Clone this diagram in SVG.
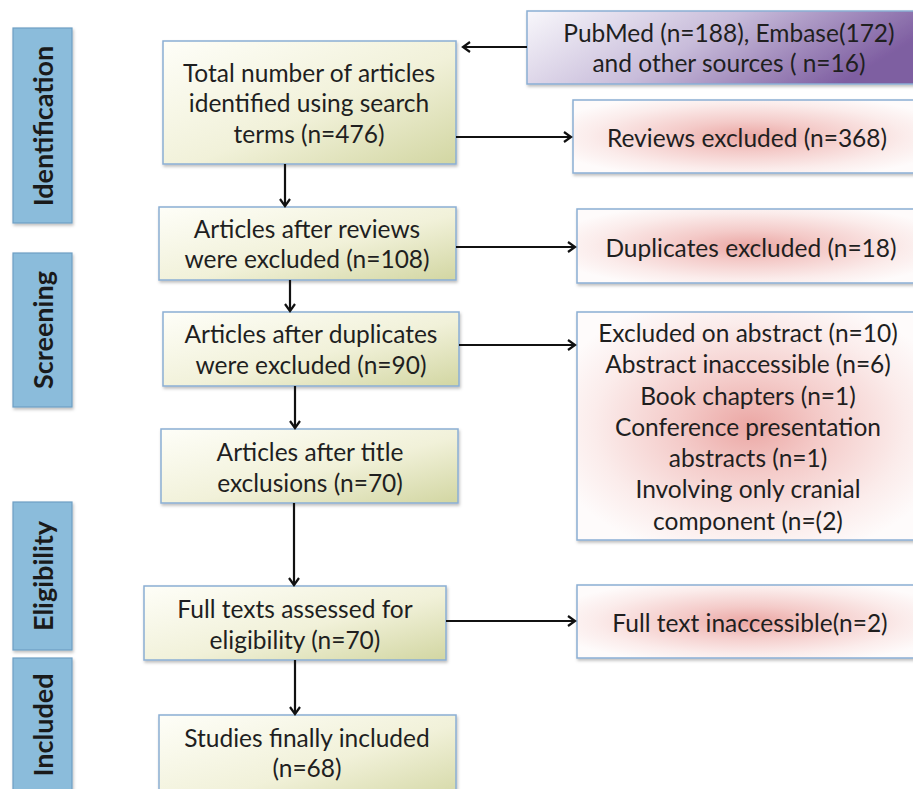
<svg xmlns="http://www.w3.org/2000/svg" width="913" height="789" viewBox="0 0 913 789">
<defs>
<style>
.t{font-family:Lato,"Liberation Sans",sans-serif;font-size:24.5px;fill:#1f1f1f;text-anchor:middle}
.s{font-family:Lato,"Liberation Sans",sans-serif;font-size:27px;font-weight:bold;fill:#1a1a1a;text-anchor:middle}
.lab{fill:#8bbcdb;stroke:#6e9fc4;stroke-width:1.2}
.g{fill:url(#green);stroke:#8aaed4;stroke-width:1.5}
.p{fill:url(#pink);stroke:#8aaed4;stroke-width:1.5}
.c{stroke:#111;stroke-width:2.2;fill:none;marker-end:url(#ah)}
</style>
<linearGradient id="green" x1="0" y1="0" x2="1" y2="1">
<stop offset="0" stop-color="#fefef8"/>
<stop offset="0.55" stop-color="#f1f1d9"/>
<stop offset="1" stop-color="#d2d6a2"/>
</linearGradient>
<radialGradient id="pink" cx="0.5" cy="0.5" r="0.6">
<stop offset="0" stop-color="#eba7a4"/>
<stop offset="0.35" stop-color="#f4cbc9"/>
<stop offset="0.75" stop-color="#fbeceb"/>
<stop offset="1" stop-color="#fefbfb"/>
</radialGradient>
<linearGradient id="purple" x1="0" y1="0" x2="1" y2="0.3">
<stop offset="0" stop-color="#f8f7fb"/>
<stop offset="0.5" stop-color="#c8bcda"/>
<stop offset="1" stop-color="#7e5ea1"/>
</linearGradient>
<filter id="sh" x="-10%" y="-10%" width="130%" height="130%">
<feDropShadow dx="1" dy="2" stdDeviation="1.5" flood-color="#000" flood-opacity="0.25"/>
</filter>
<marker id="ah" markerWidth="12" markerHeight="12" refX="9" refY="6" orient="auto" markerUnits="userSpaceOnUse">
<path d="M2,1 L9,6 L2,11" fill="none" stroke="#111" stroke-width="2.2"/>
</marker>
</defs>
<rect width="913" height="789" fill="#fff"/>

<g id="phase-identification">
<rect class="lab" x="13" y="28" width="59" height="195" filter="url(#sh)"/>
<text class="s" transform="translate(53,126) rotate(-90)">Identification</text>
</g>
<g id="phase-screening">
<rect class="lab" x="13" y="253" width="59" height="154" filter="url(#sh)"/>
<text class="s" transform="translate(53,330) rotate(-90)">Screening</text>
</g>
<g id="phase-eligibility">
<rect class="lab" x="13" y="502" width="59" height="148" filter="url(#sh)"/>
<text class="s" transform="translate(53,576) rotate(-90)">Eligibility</text>
</g>
<g id="phase-included">
<rect class="lab" x="13" y="658" width="59" height="140" filter="url(#sh)"/>
<text class="s" transform="translate(53,725) rotate(-90)">Included</text>
</g>

<g id="total">
<rect class="g" x="163" y="41" width="293" height="123" filter="url(#sh)"/>
<text class="t" x="309" y="82">Total number of articles</text>
<text class="t" x="309" y="112">identified using search</text>
<text class="t" x="309" y="143">terms (n=476)</text>
</g>
<g id="after-reviews">
<rect class="g" x="159" y="207" width="297" height="73" filter="url(#sh)"/>
<text class="t" x="307" y="238">Articles after reviews</text>
<text class="t" x="307" y="268">were excluded (n=108)</text>
</g>
<g id="after-duplicates">
<rect class="g" x="163" y="312" width="296" height="74" filter="url(#sh)"/>
<text class="t" x="311" y="343">Articles after duplicates</text>
<text class="t" x="311" y="374">were excluded (n=90)</text>
</g>
<g id="after-title">
<rect class="g" x="161" y="429" width="297" height="74" filter="url(#sh)"/>
<text class="t" x="310" y="461">Articles after title</text>
<text class="t" x="310" y="492">exclusions (n=70)</text>
</g>
<g id="full-texts">
<rect class="g" x="144" y="586" width="302" height="74" filter="url(#sh)"/>
<text class="t" x="295" y="618">Full texts assessed for</text>
<text class="t" x="295" y="649">eligibility (n=70)</text>
</g>
<g id="included">
<rect class="g" x="159" y="715" width="297" height="90" filter="url(#sh)"/>
<text class="t" x="307" y="747">Studies finally included</text>
<text class="t" x="307" y="777">(n=68)</text>
</g>

<g id="sources">
<rect x="527" y="11" width="400" height="73" fill="url(#purple)" stroke="#8aaed4" stroke-width="1.5" filter="url(#sh)"/>
<text class="t" x="729" y="42">PubMed (n=188), Embase(172)</text>
<text class="t" x="729" y="72">and other sources ( n=16)</text>
</g>
<g id="reviews-excluded">
<rect class="p" x="573" y="100" width="350" height="73" filter="url(#sh)"/>
<text class="t" x="747" y="147">Reviews excluded (n=368)</text>
</g>
<g id="duplicates-excluded">
<rect class="p" x="577" y="209" width="346" height="74" filter="url(#sh)"/>
<text class="t" x="751" y="257">Duplicates excluded (n=18)</text>
</g>
<g id="abstract-excluded">
<rect class="p" x="577" y="312" width="346" height="228" filter="url(#sh)"/>
<text class="t" x="748" y="342">Excluded on abstract (n=10)</text>
<text class="t" x="748" y="373">Abstract inaccessible (n=6)</text>
<text class="t" x="748" y="405">Book chapters (n=1)</text>
<text class="t" x="748" y="436">Conference presentation</text>
<text class="t" x="748" y="467">abstracts (n=1)</text>
<text class="t" x="748" y="498">Involving only cranial</text>
<text class="t" x="748" y="530">component (n=(2)</text>
</g>
<g id="fulltext-inaccessible">
<rect class="p" x="577" y="585" width="346" height="73" filter="url(#sh)"/>
<text class="t" x="750" y="632">Full text inaccessible(n=2)</text>
</g>

<g id="connectors">
<line class="c" x1="527" y1="47" x2="463" y2="47" />
<line class="c" x1="456" y1="137" x2="571" y2="137"/>
<line class="c" x1="285" y1="164" x2="285" y2="206"/>
<line class="c" x1="456" y1="247" x2="575" y2="247"/>
<line class="c" x1="290" y1="280" x2="290" y2="311"/>
<line class="c" x1="459" y1="345" x2="575" y2="345"/>
<line class="c" x1="295" y1="386" x2="295" y2="428"/>
<line class="c" x1="294" y1="503" x2="294" y2="585"/>
<line class="c" x1="446" y1="621" x2="575" y2="621"/>
<line class="c" x1="295" y1="660" x2="295" y2="714"/>
</g>
</svg>
